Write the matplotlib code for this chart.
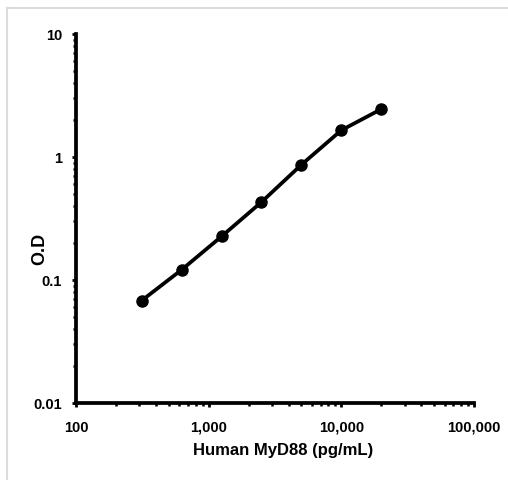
import numpy as np
import matplotlib.pyplot as plt
from matplotlib.ticker import FixedLocator, LogLocator, NullFormatter
from matplotlib.lines import Line2D

# standard curve
conc = [312.5, 625, 1250, 2500, 5000, 10000, 20000]
od = [0.068, 0.121, 0.226, 0.43, 0.865, 1.65, 2.45]

x_ticks = [100, 1000, 10000, 100000]
x_labels = ["100", "1,000", "10,000", "100,000"]
y_ticks = [0.01, 0.1, 1, 10]
y_labels = ["0.01", "0.1", "1", "10"]

plt.rcParams['font.family'] = ['Liberation Sans', 'DejaVu Sans']
plt.rcParams['font.weight'] = 'bold'

fig = plt.figure(figsize=(5.08, 4.81), dpi=100)
ax = fig.add_axes([76 / 508, 1 - 404 / 481, 398 / 508, 369 / 481])

ax.plot(conc, od, color='black', lw=2.7, marker='o', ms=8,
        solid_joinstyle='round', solid_capstyle='round')

ax.set_xscale('log')
ax.set_yscale('log')
ax.set_xlim(100, 100000)
ax.set_ylim(0.01, 10)

ax.xaxis.set_major_locator(FixedLocator(x_ticks))
ax.set_xticklabels(x_labels)
ax.yaxis.set_major_locator(FixedLocator(y_ticks))
ax.set_yticklabels(y_labels)
ax.xaxis.set_minor_locator(LogLocator(base=10, subs=np.arange(2, 10)))
ax.yaxis.set_minor_locator(LogLocator(base=10, subs=np.arange(2, 10)))
ax.xaxis.set_minor_formatter(NullFormatter())
ax.yaxis.set_minor_formatter(NullFormatter())

for s in ['top', 'right']:
    ax.spines[s].set_visible(False)
for s in ['left', 'bottom']:
    ax.spines[s].set_linewidth(2.7)

ax.tick_params(which='major', direction='out', length=3, width=2, labelsize=10.5, pad=9)
ax.tick_params(axis='y', which='major', pad=7)
ax.tick_params(which='minor', direction='out', length=2.5, width=1.8)

ax.set_xlabel('Human MyD88 (pg/mL)', fontsize=12, fontweight='bold')
ax.xaxis.set_label_coords((283 - 76) / 398, -(443 - 404) / 369)
ax.set_ylabel('O.D', fontsize=13, fontweight='bold')
ax.yaxis.set_label_coords((48 - 76) / 398, 1 - (249 - 35) / 369)

# light gray frame around the picture
fig.add_artist(Line2D([7 / 508, 7 / 508], [0, 1 - 9 / 481], color='#dcdcdc', lw=1.5,
                      transform=fig.transFigure))
fig.add_artist(Line2D([7 / 508, 1], [1 - 9 / 481, 1 - 9 / 481], color='#dcdcdc', lw=1.5,
                      transform=fig.transFigure))

fig.savefig('out.png', dpi=100)
